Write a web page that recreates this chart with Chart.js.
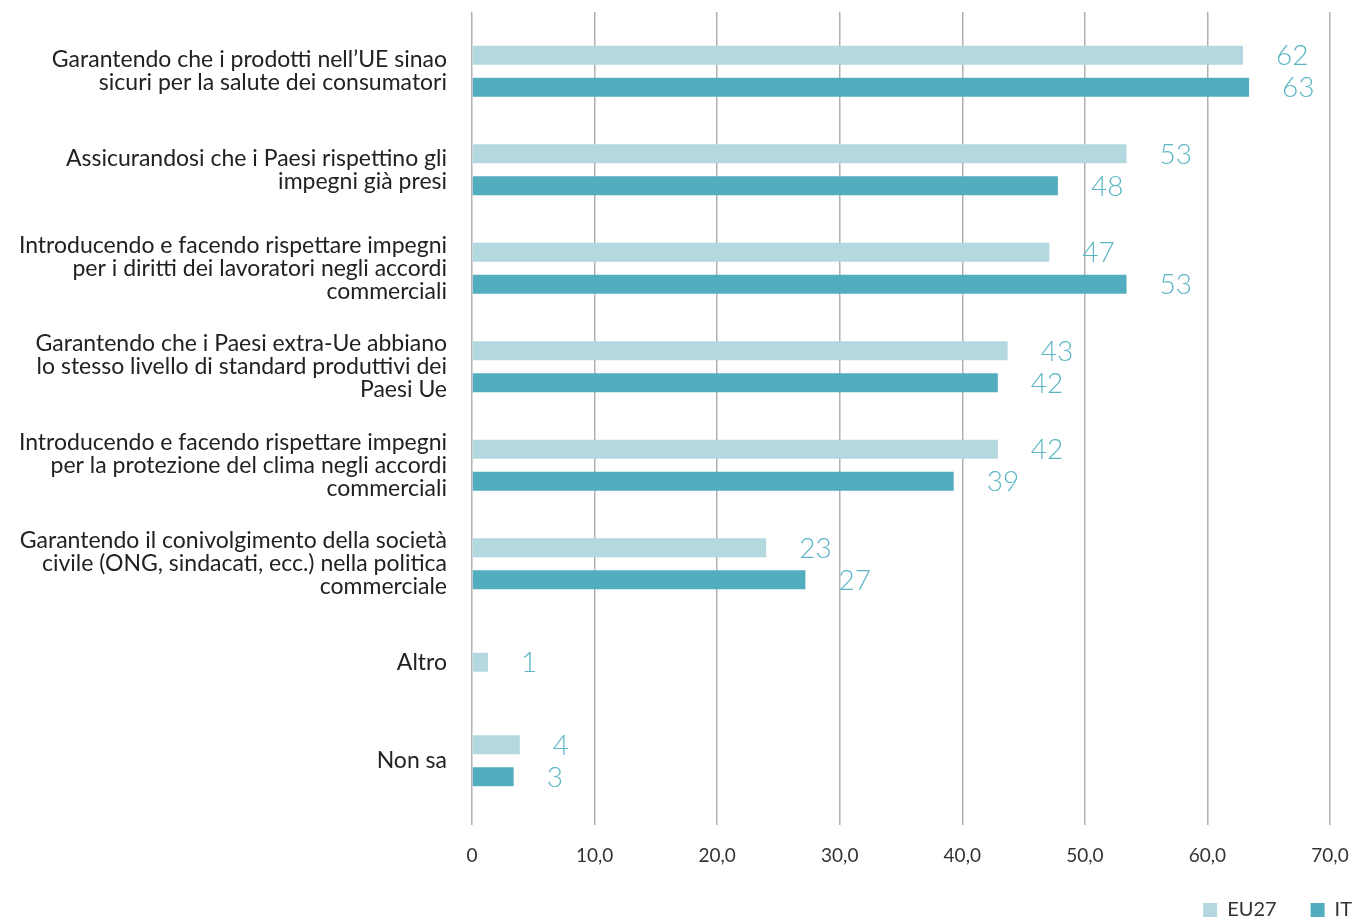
<!DOCTYPE html>
<html>
<head>
<meta charset="utf-8">
<script src="https://cdn.jsdelivr.net/npm/chart.js@4.4.0/dist/chart.umd.min.js"></script>
<style>
html,body{margin:0;padding:0;background:#fff;overflow:hidden;}
#wrap{width:1355px;height:919px;position:relative;}
</style>
</head>
<body>
<div id="wrap"><canvas id="c"></canvas></div>
<script>
const categories = [
  ["Garantendo che i prodotti nell\u2019UE sinao", "sicuri per la salute dei consumatori"],
  ["Assicurandosi che i Paesi rispettino gli", "impegni già presi"],
  ["Introducendo e facendo rispettare impegni", "per i diritti dei lavoratori negli accordi", "commerciali"],
  ["Garantendo che i Paesi extra-Ue abbiano", "lo stesso livello di standard produttivi dei", "Paesi Ue"],
  ["Introducendo e facendo rispettare impegni", "per la protezione del clima negli accordi", "commerciali"],
  ["Garantendo il conivolgimento della società", "civile (ONG, sindacati, ecc.) nella politica", "commerciale"],
  "Altro",
  "Non sa"
];
const eu27Values = [62.9, 53.4, 47.1, 43.7, 42.9, 24.0, 1.3, 3.9];
const itValues   = [63.4, 47.8, 53.4, 42.9, 39.3, 27.2, null, 3.4];
const eu27Labels = ["62", "53", "47", "43", "42", "23", "1", "4"];
const itLabels   = ["63", "48", "53", "42", "39", "27", "", "3"];
const xTickLabels = ["0", "10,0", "20,0", "30,0", "40,0", "50,0", "60,0", "70,0"];
const seriesNames = ["EU27", "IT"];

const EU_COLOR = "#b3d8df";
const IT_COLOR = "#52aebe";
const LABEL_COLOR = "#5bb6c4";
const GRID = "#b0b0b0";
const TEXT = "#222222";

const valueLabels = {
  id: "valueLabels",
  afterDatasetsDraw(chart) {
    const ctx = chart.ctx;
    const texts = [eu27Labels, itLabels];
    ctx.save();
    ctx.font = "300 28px Lato, 'Open Sans', sans-serif";
    ctx.fillStyle = LABEL_COLOR;
    ctx.textAlign = "left";
    ctx.textBaseline = "middle";
    chart.data.datasets.forEach((ds, di) => {
      const meta = chart.getDatasetMeta(di);
      meta.data.forEach((bar, i) => {
        if (ds.data[i] === null || ds.data[i] === undefined) return;
        ctx.fillText(texts[di][i], bar.x + 33, bar.y + 1);
      });
    });
    ctx.restore();
  }
};

new Chart(document.getElementById("c"), {
  type: "bar",
  data: {
    labels: categories,
    datasets: [
      { label: seriesNames[0], data: eu27Values, backgroundColor: EU_COLOR, skipNull: true },
      { label: seriesNames[1], data: itValues, backgroundColor: IT_COLOR, skipNull: true }
    ]
  },
  options: {
    indexAxis: "y",
    responsive: true,
    maintainAspectRatio: false,
    animation: false,
    layout: { padding: { top: 12, right: -31, left: 0, bottom: -11 } },
    datasets: { bar: { categoryPercentage: 0.65, barPercentage: 0.6, maxBarThickness: 19 } },
    scales: {
      x: {
        position: "bottom",
        min: 0, max: 70,
        ticks: {
          stepSize: 10,
          color: "#333",
          font: { family: "Lato, sans-serif", size: 19 },
          padding: 19,
          callback: (v, i) => xTickLabels[i]
        },
        grid: { color: GRID, lineWidth: 1.5, tickLength: 15, tickColor: GRID },
        border: { display: false },
        afterFit: (s) => { s.height = 56; s.paddingLeft = 0; s.paddingRight = 25; }
      },
      x2: {
        position: "top",
        min: 0, max: 70,
        ticks: { stepSize: 10, display: false },
        grid: { drawOnChartArea: false, color: GRID, lineWidth: 1.5, tickLength: 10, tickColor: GRID },
        border: { display: false },
        afterFit: (s) => { s.height = 10; s.paddingLeft = 0; s.paddingRight = 0; }
      },
      y: {
        ticks: {
          color: TEXT,
          font: { family: "Lato, sans-serif", size: 23, lineHeight: 1.0 },
          padding: 17
        },
        grid: { display: false },
        border: { display: false },
        afterFit: (s) => { s.width = 472; s.paddingTop = 0; s.paddingBottom = 0; }
      }
    },
    plugins: {
      legend: {
        position: "bottom",
        align: "end",
        labels: {
          boxWidth: 14, boxHeight: 14,
          color: "#333",
          font: { family: "Lato, sans-serif", size: 20 },
          padding: 34
        }
      },
      tooltip: { enabled: false }
    }
  },
  plugins: [valueLabels]
});
</script>
</body>
</html>
